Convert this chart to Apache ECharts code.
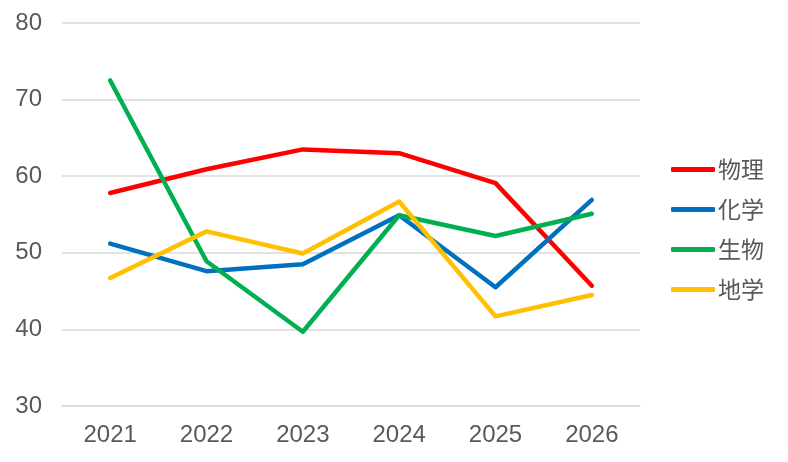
<!DOCTYPE html>
<html>
<head>
<meta charset="utf-8">
<script src="https://cdn.jsdelivr.net/npm/echarts@6/dist/echarts.min.js"></script>
<style>
  html, body { margin: 0; padding: 0; background: #fff; }
  #chart { width: 788px; height: 462px; }
</style>
</head>
<body>
<div id="chart"></div>
<script>
var years = ['2021', '2022', '2023', '2024', '2025', '2026'];
var butsuri = [57.8, 60.9, 63.5, 63.0, 59.1, 45.7];
var kagaku  = [51.2, 47.6, 48.5, 54.9, 45.5, 56.9];
var seibutsu = [72.5, 48.9, 39.7, 54.9, 52.2, 55.1];
var chigaku = [46.7, 52.8, 49.9, 56.7, 41.7, 44.5];

var fontFam = '"Liberation Sans", Arial, "Noto Sans CJK JP", sans-serif';
var textColor = '#595959';

function makeSeries(name, data, color) {
    return {
        name: name,
        type: 'line',
        data: data,
        symbol: 'none',
        lineStyle: { width: 4.5, color: color, cap: 'round', join: 'round' },
        itemStyle: { color: color },
        animation: false
    };
}

var chart = echarts.init(document.getElementById('chart'));
chart.setOption({
    animation: false,
    grid: { left: 62, right: 148, top: 23, bottom: 56 },
    legend: {
        orient: 'vertical',
        left: 671,
        top: 158,
        padding: 0,
        icon: 'roundRect',
        itemWidth: 44,
        itemHeight: 5,
        itemGap: 17,
        textStyle: { fontSize: 23, color: textColor, fontFamily: '"Noto Sans CJK JP", sans-serif', padding: [0, 0, 0, -2] },
        data: ['物理', '化学', '生物', '地学']
    },
    xAxis: {
        type: 'category',
        data: years,
        boundaryGap: true,
        axisLine: { show: true, lineStyle: { color: '#d9d9d9', width: 1.5 } },
        axisTick: { show: false },
        axisLabel: { fontSize: 24, color: textColor, fontFamily: fontFam, margin: 17 }
    },
    yAxis: {
        type: 'value',
        min: 30,
        max: 80,
        interval: 10,
        axisLine: { show: false },
        axisTick: { show: false },
        splitLine: { lineStyle: { color: '#d9d9d9', width: 1.5 } },
        axisLabel: { fontSize: 24, color: textColor, fontFamily: fontFam, margin: 20 }
    },
    series: [
        makeSeries('物理', butsuri, '#ff0000'),
        makeSeries('化学', kagaku, '#0070c0'),
        makeSeries('生物', seibutsu, '#00b050'),
        makeSeries('地学', chigaku, '#ffc000')
    ]
});
</script>
</body>
</html>
